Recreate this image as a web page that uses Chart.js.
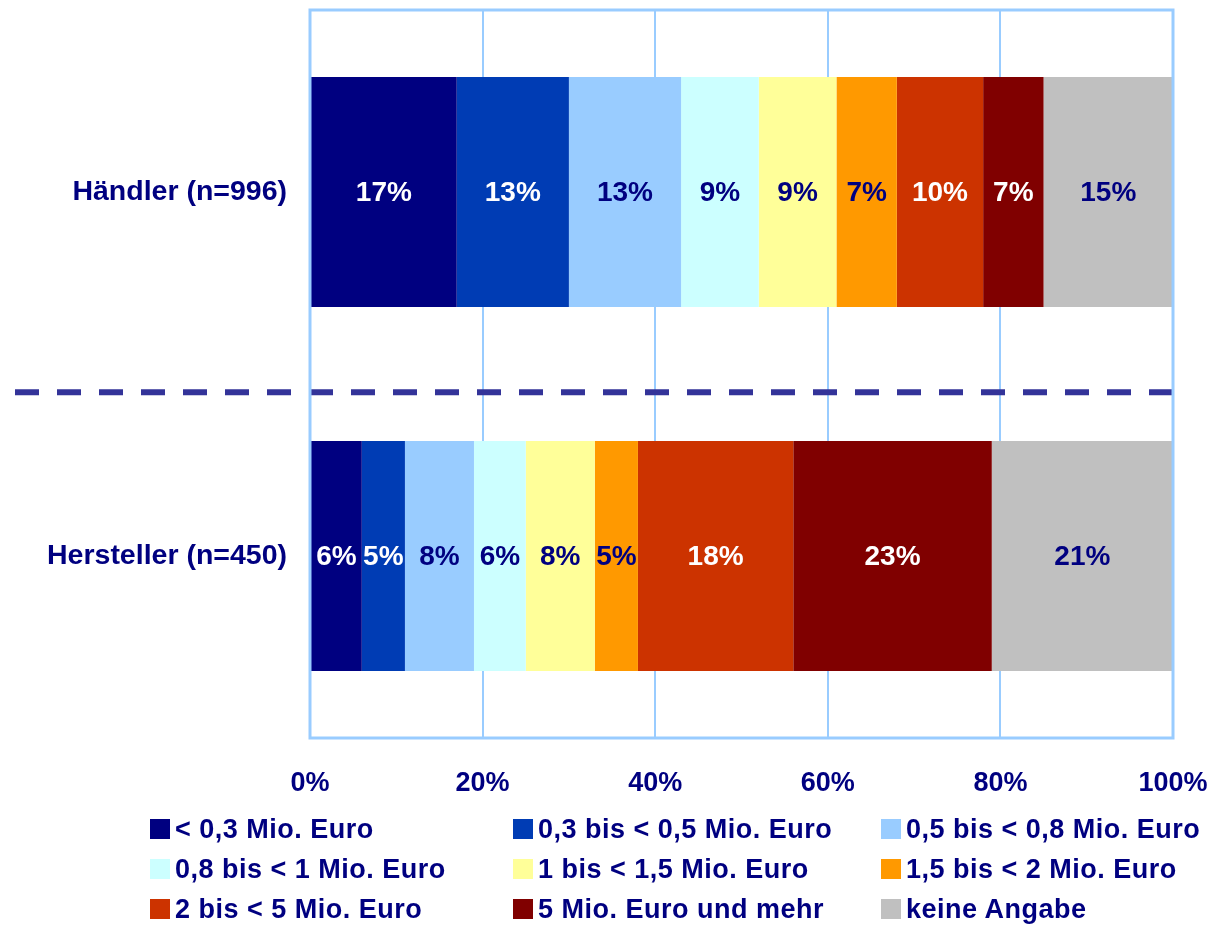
<!DOCTYPE html>
<html lang="de">
<head>
<meta charset="utf-8">
<title>Umsatzklassen Händler / Hersteller</title>
<script src="https://cdn.jsdelivr.net/npm/chart.js@4/dist/chart.umd.min.js"></script>
<style>
  html,body{margin:0;padding:0;background:#fff;}
  #wrap{position:relative;width:1214px;height:926px;overflow:hidden;}
  #chart{position:absolute;left:0;top:0;}
  #legend{position:absolute;left:0;top:0;width:1214px;height:926px;pointer-events:none;
          font:bold 27px 'Liberation Sans',Arial,sans-serif;color:#000080;letter-spacing:0.5px;}
  .lg-item{position:absolute;display:flex;align-items:center;height:40px;white-space:nowrap;}
  .lg-box{width:20px;height:20px;margin-right:5px;flex:none;}
</style>
</head>
<body>
<div id="wrap">
  <canvas id="chart" width="1214" height="926"></canvas>
  <div id="legend"></div>
</div>
<script>
// Gruppen (y-Achse) und Umsatzklassen (Stapel)
const groups     = ['Händler (n=996)', 'Hersteller (n=450)'];
const classes    = ['< 0,3 Mio. Euro', '0,3 bis < 0,5 Mio. Euro', '0,5 bis < 0,8 Mio. Euro',
                    '0,8 bis < 1 Mio. Euro', '1 bis < 1,5 Mio. Euro', '1,5 bis < 2 Mio. Euro',
                    '2 bis < 5 Mio. Euro', '5 Mio. Euro und mehr', 'keine Angabe'];
const haendler   = [17, 13, 13, 9, 9, 7, 10, 7, 15];
const hersteller = [6, 5, 8, 6, 8, 5, 18, 23, 21];
const fills      = ['#000080', '#003CB4', '#99CCFF', '#CCFFFF', '#FFFF99', '#FF9900', '#CC3300', '#800000', '#C0C0C0'];
const textCols   = ['#FFFFFF', '#FFFFFF', '#000080', '#000080', '#000080', '#000080', '#FFFFFF', '#FFFFFF', '#000080'];

const NAVY = '#000080';
const FONT = "'Liberation Sans',Arial,sans-serif";

// Rahmen ums Diagramm + gestrichelte Trennlinie zwischen den Gruppen
const frame = {
  id:'frame',
  afterDatasetsDraw(chart){
    const {ctx, chartArea:a, scales:{y}} = chart;
    const y0 = y.getPixelForValue(0), y1 = y.getPixelForValue(1);
    const sep = y0 + 0.55*(y1-y0);
    ctx.save();
    ctx.strokeStyle = '#333399'; ctx.lineWidth = 6; ctx.setLineDash([24,18]);
    ctx.beginPath(); ctx.moveTo(15, sep); ctx.lineTo(a.right, sep); ctx.stroke();
    ctx.setLineDash([]);
    ctx.strokeStyle = '#99CCFF'; ctx.lineWidth = 3;
    ctx.strokeRect(a.left, a.top, a.right-a.left, a.bottom-a.top);
    ctx.restore();
  }
};

// Prozentwerte mittig in die Segmente
const barLabels = {
  id:'barLabels',
  afterDatasetsDraw(chart){
    const {ctx} = chart;
    ctx.save();
    ctx.font = `bold 28px ${FONT}`; ctx.textAlign = 'center'; ctx.textBaseline = 'middle';
    chart.data.datasets.forEach((ds,i)=>{
      chart.getDatasetMeta(i).data.forEach((el,j)=>{
        ctx.fillStyle = textCols[i];
        ctx.fillText(ds.data[j]+'%', (el.x+el.base)/2, el.y+1);
      });
    });
    ctx.restore();
  }
};

new Chart(document.getElementById('chart'), {
  type:'bar',
  data:{
    labels:groups,
    datasets:classes.map((c,i)=>({
      label:c, data:[haendler[i], hersteller[i]],
      backgroundColor:fills[i], borderWidth:0,
      barPercentage:0.632, categoryPercentage:1
    }))
  },
  options:{
    indexAxis:'y', responsive:false, animation:false, devicePixelRatio:1,
    layout:{padding:{top:10, right:41, left:0, bottom:0}},
    plugins:{legend:{display:false}, tooltip:{enabled:false}},
    scales:{
      x:{
        stacked:true, min:0, max:100,
        ticks:{stepSize:20, callback:v=>v+'%', color:NAVY, padding:29, font:{family:FONT, size:27, weight:'bold'}},
        grid:{color:'#99CCFF', lineWidth:2, drawTicks:false},
        border:{display:false},
        afterFit:s=>{ s.height = 188; s.paddingLeft = 0; s.paddingRight = 0; }
      },
      y:{
        stacked:true,
        ticks:{color:NAVY, padding:23, font:{family:FONT, size:28.5, weight:'bold'}},
        grid:{display:false, drawTicks:false},
        border:{display:false},
        afterFit:s=>{ s.width = 310; s.paddingTop = 0; s.paddingBottom = 0; }
      }
    }
  },
  plugins:[frame, barLabels]
});

// Legende: 3 Spalten x 3 Zeilen
const lgCols = [150, 513, 881], lgRows = [809, 849, 889];
const legend = document.getElementById('legend');
classes.forEach((c,i)=>{
  const it = document.createElement('div');
  it.className = 'lg-item';
  it.style.left = lgCols[i%3]+'px'; it.style.top = lgRows[Math.floor(i/3)]+'px';
  it.innerHTML = `<span class="lg-box" style="background:${fills[i]}"></span><span></span>`;
  it.lastChild.textContent = c;
  legend.appendChild(it);
});
</script>
</body>
</html>
